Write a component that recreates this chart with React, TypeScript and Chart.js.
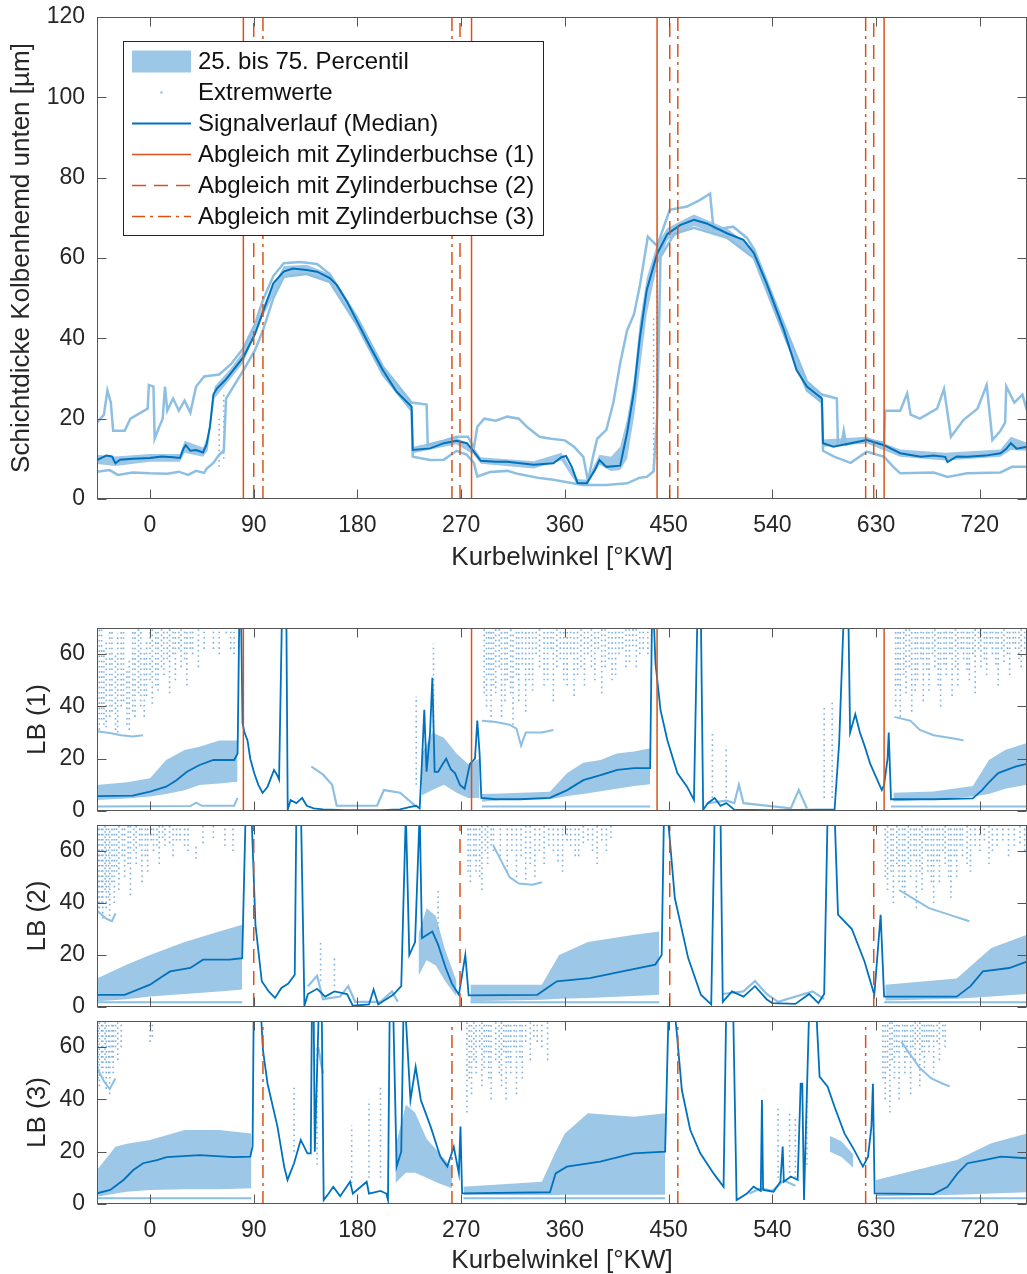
import React, { useEffect, useRef } from 'react';
import { Chart, registerables } from 'chart.js';

Chart.register(...registerables);

type P = [number, number | null];
type B = [number, number, number];
type S = [number, number, number];

// ---------- axes / labels ----------
const X_MIN = -46;
const X_MAX = 761;
const xTicks = [0, 90, 180, 270, 360, 450, 540, 630, 720];
const topYTicks = [0, 20, 40, 60, 80, 100, 120];
const lbYTicks = [0, 20, 40, 60];
const TOP_Y_MAX = 120;
const LB_Y_MAX = 70;

const xTitle = 'Kurbelwinkel [°KW]';
const topYTitle = 'Schichtdicke Kolbenhemd unten [µm]';
const lbTitles = ['LB (1)', 'LB (2)', 'LB (3)'];
const legendLabels = [
  '25. bis 75. Percentil',
  'Extremwerte',
  'Signalverlauf (Median)',
  'Abgleich mit Zylinderbuchse (1)',
  'Abgleich mit Zylinderbuchse (2)',
  'Abgleich mit Zylinderbuchse (3)',
];

// alignment angles (°KW)
const cyl1 = [81, 279, 440, 637];
const cyl2 = [90, 269, 451, 628];
const cyl3 = [98, 262, 458, 621];

// ---------- top panel ----------
const topMedian: P[] = [
  [-46, 9.7], [-38, 10.8], [-33, 10.6], [-30, 8.9], [-26, 9.8], [-15, 10.0], [0, 10.2], [10, 10.6], [20, 10.4],
  [26, 10.2], [29, 12.5], [31, 13.4], [35, 12.0], [40, 12.2], [46, 11.6], [49, 13.5], [52, 18], [55, 26],
  [58, 27.5], [65, 29.5], [70, 31.3], [81, 35.3], [91, 41], [98, 46.6], [107, 53.7], [116, 56.6], [124, 57.4],
  [136, 57.0], [145, 56.6], [156, 55.0], [162, 53.3], [171, 49.1], [179, 44.6], [191, 37.9], [202, 32.1],
  [214, 26.7], [227, 23.0], [228, 12.2], [243, 12.6], [255, 13.9], [266, 14.5], [275, 13.9], [281, 11.8],
  [287, 9.5], [300, 9.3], [310, 9.3], [333, 8.5], [350, 8.9], [357, 10.4], [361, 10.7], [366, 8.0], [371, 4.0],
  [379, 3.9], [386, 7.2], [390, 9.7], [396, 8.0], [408, 8.3], [414, 16.5], [420, 27], [425, 40], [431, 52],
  [440, 61], [449, 66], [460, 68.2], [472, 69.5], [483, 68.6], [501, 66.1], [515, 64.5], [524, 61.2],
  [535, 53.7], [550, 42.1], [561, 32.1], [570, 28.0], [583, 25.0], [584, 13.9], [593, 13.0], [608, 13.9],
  [622, 14.7], [637, 13.4], [651, 11.4], [669, 10.5], [680, 10.8], [690, 10.5], [692, 9.2], [700, 10.6],
  [709, 10.5], [725, 10.8], [738, 11.4], [743, 12.5], [747, 13.9], [752, 12.5], [761, 13.0],
];
const topBand: B[] = [
  [-46, 8.7, 11], [-30, 8.2, 10.6], [0, 9.3, 11.2], [26, 9.3, 11.2], [30, 11.5, 14.5], [46, 10.5, 12.8],
  [50, 12, 15.5], [56, 25, 28], [70, 30, 32.5], [81, 34, 36.8], [98, 45.5, 48], [116, 55.5, 58], [136, 56, 58.3],
  [156, 54, 56], [179, 43.6, 45.6], [202, 31, 33], [227, 22, 24], [228, 11.4, 13], [266, 13.6, 15.3],
  [281, 11, 12.8], [287, 8.8, 10.4], [333, 7.6, 9.4], [357, 9.6, 11.5], [371, 3.4, 5], [379, 3.3, 4.8],
  [390, 8.5, 11], [400, 7, 10.5], [408, 7.2, 13], [414, 10, 20], [420, 20.5, 30], [425, 32, 44], [431, 46, 55],
  [440, 58, 63.5], [449, 64.5, 67.5], [472, 68, 70.8], [501, 65, 67.3], [524, 60, 62.3], [550, 41, 43.2],
  [570, 27, 29], [583, 24, 26], [584, 13, 14.8], [622, 13.8, 15.5], [651, 10.5, 12.3], [690, 9.6, 11.5],
  [738, 10.5, 12.3], [747, 12.2, 15.5], [761, 12, 14],
];
const topUpper: P[] = [
  [-46, 19], [-40, 21], [-37, 27], [-34, 24], [-32, 17], [-22, 17], [-17, 20], [-5, 22], [-2, 22.5], [-1, 28.4],
  [3, 28], [4, 15], [8, 18], [11, 20], [13, 28], [15, 22], [20, 25], [25, 22], [30, 24.5], [35, 21.5], [40, 28],
  [47, 30.5], [60, 31], [70, 33.5], [81, 37.5], [91, 43.5], [98, 49.5], [107, 55.5], [116, 58.7], [130, 59],
  [145, 58.5], [156, 56], [179, 45.5], [202, 33], [227, 24], [240, 23.5], [241, 13.5], [255, 14.5], [266, 15.5],
  [276, 15.5], [281, 12.7], [284, 18], [290, 20], [300, 19.5], [310, 20.5], [320, 20], [327, 18], [338, 15.5],
  [348, 15], [360, 14.6], [368, 13], [376, 10.5], [380, 4.5], [384, 10], [388, 15], [396, 17.2], [402, 23.9],
  [408, 33.8], [414, 42], [420, 46], [425, 53], [432, 65.3], [440, 63], [451, 72], [466, 72.8], [477, 74.4],
  [486, 76], [489, 67], [506, 67.8], [518, 65], [524, 62.3], [550, 43.5], [570, 29.3], [583, 26], [596, 25],
  [597, 13.5], [600, 13.5], [602, 17], [604, 13.5], [622, 14.8], [637, 14], [638, 22], [651, 22], [657, 26.3],
  [660, 21], [668, 20], [683, 22.5], [689, 27.4], [695, 15.5], [706, 19.7], [718, 22.5], [726, 28.4],
  [731, 14.7], [738, 17], [742, 19], [743, 28], [750, 24], [757, 26], [761, 22],
];
const topLower: P[] = [
  [-46, 6.8], [-35, 7.2], [-28, 6.0], [-15, 6.6], [0, 6.4], [15, 6.3], [25, 6.8], [33, 6.0], [40, 7.0],
  [47, 6.5], [49, 7.5], [55, 9], [60, 11], [64, 12], [66, 25], [81, 32], [91, 37], [98, 42], [107, 50],
  [116, 55.3], [136, 56], [156, 54], [179, 43.6], [202, 31], [227, 22], [228, 10.5], [243, 9.7], [255, 9.8],
  [266, 12], [275, 11], [281, 9], [284, 5.6], [295, 6.7], [310, 7], [320, 6.2], [338, 5.2], [350, 4.8],
  [367, 3.9], [376, 3.5], [396, 3.5], [414, 3.9], [425, 5.3], [431, 5.5], [437, 6.9], [440, 20], [443, 60.3],
  [455, 66], [472, 67.5], [501, 65], [524, 60], [550, 41], [570, 27], [583, 24], [584, 12], [594, 10.5],
  [608, 9], [622, 11.8], [637, 10.5], [645, 8], [651, 6.4], [680, 6.6], [692, 5.5], [709, 6.4], [738, 6.6],
  [748, 8], [761, 8],
];
const topDots: S[] = [[60, 8, 20], [64, 10, 26], [437, 7, 45], [440, 10, 58]];

// ---------- LB (1) ----------
const lb1Median: P[] = [
  [-46, 5.7], [-15, 5.9], [0, 7.4], [14, 9.3], [23, 11.8], [32, 15], [43, 17.6], [55, 19.5], [73, 19.5],
  [76, 22], [77.5, 75], [79, 75], [80.3, 33.6], [82, 30], [84.6, 27], [87, 20], [90.4, 14.5], [94, 10],
  [97.7, 6.9], [102, 9.3], [107.6, 15.7], [110, 14], [112, 12], [114.5, 75], [118.3, 75], [119.5, 0.5],
  [122, 4.2], [127, 3], [132, 5], [136, 2], [142, 1], [150, 0.6], [170, 0.3], [200, 0.3], [217, 0.6],
  [225, 1.5], [231, 2], [234, 1], [236, 19], [238, 38.7], [240, 15], [243, 30], [245, 51], [247, 15],
  [250, 15], [254, 18], [257, 20], [261, 16], [264.6, 14.5], [269, 10], [273, 8.5], [277.6, 18], [282, 20],
  [284, 34.6], [286, 22], [287.5, 5], [300, 4.5], [321, 4.5], [347, 5], [362, 8], [376, 11.8], [391, 13.7],
  [405.5, 15.7], [420, 16.4], [434, 16.4], [435.6, 75], [437, 75], [438.6, 56.5], [443, 38.6], [449, 27],
  [457.6, 14.5], [466, 9.3], [472, 4.2], [475, 75], [478, 75], [480, 0.5], [484, 3], [490, 5], [495, 2],
  [500, 3], [507, 0.5], [540, 0.3], [580, 0.5], [594, 0.5], [598, 26], [602, 75], [606, 75], [607.5, 30],
  [612, 37], [616, 30], [620, 25], [625, 18], [630, 13], [635, 8], [637, 10], [640, 20], [641, 30], [643, 4.5],
  [680, 4.5], [714, 4.8], [722, 8], [728, 11], [736, 14.5], [751, 17], [761, 18],
];
const lb1Bands: B[][] = [
  [[-46, 4.2, 9.9], [-20, 4.8, 11], [0, 5.5, 12.5], [14, 6.5, 19.5], [30, 7.9, 23.3], [43, 9.9, 24.6], [60, 10.5, 27], [76, 11.2, 27]],
  [[236, 6, 22], [245, 8, 30], [255, 10, 28], [266, 7, 22], [276, 5, 18], [286, 5, 20]],
  [[288, 3.5, 6.5], [304, 4.2, 6.7], [347, 4.5, 7.4], [362, 5.7, 14.5], [376, 6.5, 18.5], [391, 7.6, 19.5], [405, 8.5, 22], [420, 9.6, 22.8], [434, 10.2, 24]],
  [[645, 3.6, 7], [680, 4.5, 7.5], [714, 5.5, 9.6], [728, 6.5, 19.5], [742, 8.5, 23.3], [761, 10, 26]],
];
const lb1Lower: P[] = [
  [-46, 1.7], [35, 1.9], [40, 3.2], [45, 2.0], [73, 2.0], [76, 5], [77, null], [288, 1.7], [434, 1.7],
  [435, null], [643, 1.7], [761, 1.7],
];
const lb1Light: P[] = [
  [140, 17], [150, 14], [158, 10], [162, 2], [197, 2], [203, 8], [217, 7], [231, 1.7], [232, null],
  [484, 3], [500, 4], [507, 3], [511, 10], [515, 3], [556, 1], [563, 8], [570, 1], [571, null],
];
const lb1Edge: P[] = [
  [-46, 30.5], [-35, 29.8], [-25, 29], [-15, 28.5], [-6, 29], [-5, null], [288, 34.5], [300, 34], [312, 33],
  [318, 31.5], [322, 25], [326, 30], [340, 30], [350, 31], [351, null], [646, 36], [660, 34.5], [668, 31],
  [680, 29], [700, 27.5], [706, 27], [707, null],
];
const lb1Dots: S[] = [
  [-44, 31, 70], [-42, 35, 70], [-40, 33, 62], [-38, 32, 65], [-35, 36, 70], [-33, 38, 70], [-30, 31, 60],
  [-28, 30, 68], [-25, 40, 70], [-23, 42, 70], [-20, 33, 55], [-18, 31, 58], [-15, 38, 70], [-13, 36, 70],
  [-10, 45, 70], [-8, 40, 70], [-5, 36, 62], [-3, 44, 66], [0, 50, 70], [2, 41, 70], [5, 48, 70], [7, 46, 70],
  [10, 55, 70], [12, 52, 70], [15, 58, 70], [17, 45, 70], [20, 60, 70], [22, 50, 70], [25, 62, 70], [27, 55, 70],
  [30, 58, 70], [32, 48, 70], [35, 62, 70], [37, 60, 70], [42, 55, 70], [47, 62, 70], [55, 62, 70], [60, 60, 70],
  [66, 68, 70], [70, 62, 70], [73, 60, 70], [231, 10, 44], [246, 30, 64], [290, 45, 70], [292, 40, 70],
  [294, 52, 70], [296, 34, 70], [298, 48, 70], [300, 45, 70], [303, 55, 70], [305, 36, 70], [308, 42, 70],
  [310, 50, 70], [313, 45, 70], [315, 33, 68], [318, 52, 70], [320, 42, 70], [323, 56, 70], [326, 38, 70],
  [329, 50, 70], [332, 46, 70], [335, 60, 70], [338, 55, 70], [342, 48, 70], [345, 50, 70], [348, 62, 70],
  [350, 42, 70], [353, 55, 70], [356, 58, 70], [359, 50, 70], [362, 48, 70], [365, 60, 70], [368, 44, 70],
  [371, 52, 70], [374, 55, 70], [377, 48, 70], [380, 60, 70], [383, 55, 70], [386, 50, 70], [389, 62, 70],
  [392, 45, 70], [395, 55, 70], [398, 58, 70], [401, 50, 70], [404, 52, 70], [407, 60, 70], [410, 62, 70],
  [413, 55, 70], [416, 57, 70], [419, 63, 70], [422, 55, 70], [425, 60, 70], [428, 62, 70], [432, 60, 70],
  [488, 5, 30], [500, 5, 25], [585, 5, 40], [592, 5, 42], [647, 40, 70], [649, 48, 70], [651, 36, 70],
  [654, 52, 70], [656, 45, 70], [659, 55, 70], [661, 38, 70], [664, 46, 70], [666, 50, 70], [669, 58, 70],
  [671, 42, 70], [674, 54, 70], [676, 46, 70], [679, 60, 70], [681, 55, 70], [684, 48, 70], [686, 40, 70],
  [689, 56, 70], [691, 52, 70], [694, 60, 70], [696, 44, 70], [699, 55, 70], [701, 48, 70], [704, 62, 70],
  [706, 58, 70], [709, 54, 70], [711, 50, 70], [714, 60, 70], [716, 45, 70], [719, 62, 70], [721, 55, 70],
  [724, 58, 70], [726, 52, 70], [729, 64, 70], [731, 60, 70], [734, 56, 70], [736, 48, 70], [739, 62, 70],
  [741, 57, 70], [744, 60, 70], [746, 52, 70], [749, 64, 70], [751, 62, 70], [754, 58, 70], [756, 55, 70],
  [759, 62, 70],
];

// ---------- LB (2) ----------
const lb2Median: P[] = [
  [-46, 4.7], [-22, 4.7], [0, 8.6], [10, 11.5], [17.5, 13.7], [35, 15], [46, 18.2], [69, 18.2], [80, 18.8],
  [83, 75], [88, 75], [91.5, 31.6], [97, 9.9], [103, 6], [108.5, 3.5], [114, 7.3], [120, 9], [125.6, 12.4],
  [127, 75], [131, 75], [134, 0.5], [137, 5], [145, 7], [152, 4], [160, 6], [171, 5], [176, 0.5], [190, 1],
  [194, 6.7], [198, 1], [211, 4.7], [218, 8], [222, 75], [225, 20], [230, 25], [234, 75], [236, 26.5],
  [245, 29], [250, 24], [256.6, 15], [262, 9], [268, 4.7], [273.6, 20], [276.5, 4.5], [336, 4.7], [353, 9.9],
  [381.6, 11.1], [410, 13.7], [438.4, 16.3], [444, 20], [446, 75], [449, 75], [455.4, 41.9], [467, 18.8],
  [478, 4.7], [487, 1], [490, 75], [495, 75], [497, 2], [505, 6], [515, 4], [525, 8], [535, 3], [540, 1.5],
  [560, 1.2], [572, 5], [580, 1.5], [585, 5], [588, 75], [594, 75], [597, 35.5], [609, 30], [620, 17.5],
  [628.5, 4.7], [634, 35.5], [637, 4], [700, 4], [712, 8], [722.7, 13.7], [745.5, 15], [761, 17.5],
];
const lb2Bands: B[][] = [
  [[-46, 2.2, 11], [-20, 3, 16.3], [0, 4, 20], [30, 5, 25], [60, 6, 29], [80, 6.7, 31.6]],
  [[233, 12, 28], [240, 18, 38], [248, 16, 35], [256, 10, 22], [266, 4, 10]],
  [[278, 2.2, 8.6], [340, 2.8, 8.6], [355, 3.2, 20], [380, 3.5, 25], [420, 4.2, 27.8], [442, 4.7, 29]],
  [[638, 2.5, 8.6], [700, 3.2, 11], [730, 4, 22.7], [761, 5, 27.8]],
];
const lb2Lower: P[] = [
  [-46, 1.8], [80, 1.8], [81, null], [278, 1.8], [442, 1.8], [443, null], [637, 1.8], [761, 1.8],
];
const lb2Light: P[] = [
  [137, 8], [145, 12], [150, 3], [165, 4], [172, 8], [178, 2], [200, 2], [210, 6], [215, 2], [216, null],
  [497, 5], [515, 6], [525, 10], [535, 5], [545, 2], [575, 6], [585, 3], [586, null],
];
const lb2Edge: P[] = [
  [-46, 37], [-38, 34], [-33, 33], [-30, 36], [-29, null], [298, 62], [305, 56], [312, 50], [320, 47.5],
  [332, 47], [340, 48], [341, null], [650, 45], [665, 41], [676, 38], [690, 36], [711, 33], [712, null],
];
const lb2Dots: S[] = [
  [-45, 38, 70], [-44, 36, 70], [-42, 40, 70], [-41, 34, 70], [-39, 45, 70], [-38, 38, 70], [-36, 42, 70],
  [-35, 33, 68], [-33, 48, 70], [-31, 40, 70], [-29, 52, 70], [-27, 45, 70], [-24, 58, 70], [-22, 50, 70],
  [-19, 55, 70], [-17, 43, 70], [-14, 60, 70], [-12, 55, 70], [-9, 62, 70], [-7, 48, 70], [-4, 58, 70],
  [-2, 52, 70], [1, 64, 70], [3, 60, 70], [6, 62, 70], [8, 55, 70], [11, 65, 70], [13, 62, 70], [17, 63, 70],
  [20, 58, 70], [23, 64, 70], [26, 64, 70], [30, 62, 70], [33, 60, 70], [40, 57, 62], [46, 63, 70], [55, 65, 70],
  [65, 62, 70], [72, 60, 70], [148, 10, 25], [160, 8, 20], [250, 30, 45], [276, 52, 70], [278, 48, 70],
  [281, 58, 70], [283, 52, 70], [286, 50, 70], [288, 45, 70], [291, 60, 70], [293, 55, 70], [296, 62, 70],
  [298, 60, 70], [304, 58, 70], [310, 52, 70], [314, 60, 70], [318, 50, 70], [322, 58, 70], [326, 49, 70],
  [330, 55, 70], [334, 50, 70], [338, 60, 70], [342, 55, 70], [346, 62, 70], [350, 60, 70], [354, 56, 70],
  [358, 52, 70], [362, 64, 70], [365, 62, 70], [369, 58, 70], [372, 58, 70], [376, 63, 70], [380, 64, 70],
  [384, 60, 70], [388, 55, 70], [392, 64, 70], [396, 60, 70], [400, 65, 70], [638, 50, 70], [640, 45, 70],
  [643, 52, 70], [645, 40, 70], [648, 55, 70], [650, 48, 70], [653, 46, 70], [655, 42, 70], [658, 55, 70],
  [660, 50, 70], [663, 58, 70], [665, 38, 70], [668, 52, 70], [670, 45, 70], [673, 60, 70], [675, 52, 70],
  [678, 48, 70], [680, 40, 70], [683, 56, 70], [685, 48, 70], [688, 60, 70], [690, 55, 70], [693, 50, 70],
  [695, 42, 70], [698, 58, 70], [700, 50, 70], [703, 62, 70], [705, 58, 70], [709, 55, 70], [712, 52, 70],
  [716, 62, 70], [720, 60, 70], [724, 64, 70], [728, 55, 70], [731, 60, 70], [735, 62, 70], [740, 64, 70],
  [745, 58, 70], [750, 62, 70], [755, 63, 70], [759, 60, 70],
];

// ---------- LB (3) ----------
const lb3Median: P[] = [
  [-46, 4.1], [-34.5, 5.4], [-23, 9.2], [-14.5, 13], [-6, 15.6], [6, 16.8], [14.5, 17.9], [43, 18.7], [72, 17.9],
  [87, 18.1], [89, 22], [90, 75], [96, 75], [98, 58.9], [102, 46], [110.6, 29.6], [116.4, 14.3], [119.3, 9.2],
  [125, 15.6], [130.8, 24.5], [136.6, 19.4], [139.5, 19.4], [140.5, 75], [142, 75], [143, 20], [146.5, 75],
  [149, 75], [150.7, 1.5], [155, 4], [159, 6.6], [165, 3], [173.6, 8.5], [176, 4], [188, 8.5], [190, 4],
  [200, 5], [205, 4], [206.5, 1.5], [208, 75], [211, 75], [214, 14.3], [218, 20], [220, 75], [221.5, 75],
  [226, 39.8], [230.5, 52.5], [235, 39.8], [243.5, 29.6], [252, 18], [258, 14.3], [263.6, 21.9], [268, 11.7],
  [269.4, 29.6], [270.8, 4.1], [347, 4.5], [352, 11.7], [361.7, 14.3], [390.6, 16.2], [419.6, 19.4], [447, 20],
  [450, 75], [455, 75], [457.2, 65], [461.5, 43.6], [468.8, 28.3], [477.5, 19.4], [489, 11.7], [497.7, 6.6],
  [500, 75], [506, 75], [509, 1.5], [518, 4], [523.7, 6.6], [530, 5], [531, 39.8], [532, 5.4], [541, 4.7],
  [547, 8.5], [549, 22], [550, 8.5], [556, 10.5], [562, 9.2], [564.6, 46], [566, 46], [567.5, 1.5], [572, 75],
  [578, 75], [581, 48.7], [588, 44.9], [594, 37.2], [602.6, 27], [611, 20.7], [618.6, 14.3], [623, 18],
  [626, 29.6], [627.3, 46], [628.8, 4.1], [680, 3.8], [692, 6.6], [700.7, 11.7], [709.4, 15.6], [723.8, 16.8],
  [738.3, 18.1], [761, 17.5],
];
const lb3Bands: B[][] = [
  [[-46, 2.8, 13], [-30, 4, 21.9], [-20, 4.7, 23], [0, 5.4, 24.5], [30, 5.6, 28.3], [60, 5.6, 28.3], [88, 6, 27]],
  [[213, 8, 22], [222, 12, 38], [230, 12, 35], [240, 10, 25], [250, 8, 20], [262, 6, 14]],
  [[272, 3.4, 6.6], [340, 3.4, 8.5], [352, 3.4, 20], [360, 3.5, 27], [380, 3.5, 34.7], [420, 3.5, 33.4], [447, 3.5, 34.7]],
  [[590, 20, 26], [600, 18, 24], [610, 14, 19]],
  [[630, 3, 9.2], [700, 3.5, 16.8], [730, 4, 23.2], [761, 4.5, 27]],
];
const lb3Lower: P[] = [
  [-46, 2.2], [88, 2.2], [89, null], [272, 2.2], [447, 2.2], [448, null], [629, 2.2], [761, 2.2],
];
const lb3Light: P[] = [
  [146, 60], [150, 50], [152, null], [520, 4], [530, 6], [540, 5], [550, 9], [560, 7], [566, null],
];
const lb3Edge: P[] = [
  [-46, 52], [-40, 47], [-35, 44], [-30, 48], [-29, null], [652, 62], [660, 57], [668, 52], [678, 48],
  [688, 46], [694, 45], [695, null],
];
const lb3Dots: S[] = [
  [-45, 48, 70], [-44, 45, 70], [-42, 52, 70], [-41, 48, 70], [-39, 55, 70], [-38, 44, 70], [-36, 50, 70],
  [-35, 42, 68], [-33, 56, 70], [-32, 50, 70], [-30, 60, 70], [-28, 55, 70], [-25, 60, 70], [0, 62, 70],
  [2, 64, 70], [125, 20, 45], [145, 15, 60], [175, 8, 30], [190, 10, 40], [200, 10, 45], [275, 35, 70],
  [277, 48, 70], [279, 42, 70], [281, 55, 70], [283, 50, 70], [286, 60, 70], [288, 45, 70], [290, 52, 70],
  [292, 58, 70], [294, 48, 70], [296, 40, 70], [300, 55, 70], [303, 50, 70], [305, 45, 70], [307, 58, 70],
  [309, 40, 70], [311, 54, 70], [313, 50, 70], [316, 60, 70], [318, 42, 70], [321, 56, 70], [323, 48, 70],
  [326, 62, 70], [330, 55, 70], [333, 64, 70], [336, 62, 70], [340, 60, 70], [345, 55, 70], [531, 10, 40],
  [545, 10, 38], [555, 12, 36], [560, 10, 33], [570, 15, 40], [636, 48, 70], [638, 40, 70], [640, 52, 70],
  [642, 35, 70], [644, 55, 70], [646, 48, 70], [648, 58, 70], [650, 40, 70], [653, 60, 70], [655, 50, 70],
  [657, 56, 70], [660, 42, 70], [662, 60, 70], [664, 55, 70], [666, 62, 70], [668, 45, 70], [670, 58, 70],
  [672, 52, 70], [674, 62, 70], [676, 58, 70], [678, 64, 70], [680, 50, 70], [683, 62, 70], [685, 55, 70],
  [688, 64, 70], [690, 60, 70],
];

// ---------- styles ----------
const FONT = '"Liberation Sans", Arial, Helvetica, sans-serif';
const TEXT_C = '#262626';
const AXIS_C = '#555555';
const MEDIAN_C = '#0072BD';
const BAND_C = '#9DC7E7';
const EXT_C = '#8DBFE3';
const DOT_C = 'rgba(105,165,215,0.85)';
const RED_C = '#D95319';
const DASH_SOLID: number[] = [];
const DASH_DASHED = [14, 8];
const DASH_DOTDASH = [13, 5, 3, 5];
const TICK_FONT = 23;
const TITLE_FONT = 26;
const LEGEND_FONT = 24;

const toXY = (a: P[]) => a.map(([x, y]) => ({ x, y }));

function lineDs(data: any[], color: string, width: number, order: number, dash: number[] = []) {
  return {
    data, borderColor: color, backgroundColor: color, borderWidth: width, pointRadius: 0,
    pointHoverRadius: 0, fill: false, order, borderDash: dash, tension: 0, spanGaps: false,
  };
}

function bandDs(segs: B[][]) {
  const out: any[] = [];
  segs.forEach((seg) => {
    out.push({
      data: seg.map(([x, lo]) => ({ x, y: lo })), borderColor: 'rgba(0,0,0,0)', borderWidth: 0,
      pointRadius: 0, fill: false, order: 5, tension: 0,
    });
    out.push({
      data: seg.map(([x, , hi]) => ({ x, y: hi })), borderColor: 'rgba(0,0,0,0)', borderWidth: 0,
      pointRadius: 0, fill: '-1', backgroundColor: BAND_C, order: 5, tension: 0,
    });
  });
  return out;
}

function streakDs(s: S[]) {
  const data: any[] = [];
  s.forEach(([x, lo, hi]) => {
    data.push({ x, y: lo }, { x, y: hi }, { x, y: null });
  });
  return lineDs(data, DOT_C, 1.6, 3, [1.6, 3.6]);
}

function vlineDs(xs: number[], yMax: number, dash: number[]) {
  return xs.map((x) => lineDs([{ x, y: 0 }, { x, y: yMax }], RED_C, 1.5, 0, dash));
}

function drawLegend(ctx: CanvasRenderingContext2D) {
  const L = 123.5, T = 41.5, W = 420, H = 194;
  ctx.save();
  ctx.fillStyle = '#ffffff';
  ctx.fillRect(L, T, W, H);
  ctx.strokeStyle = TEXT_C;
  ctx.lineWidth = 1;
  ctx.strokeRect(L, T, W, H);
  const sx0 = 132, sx1 = 191, tx = 198, y0 = 61.5, dy = 31;
  ctx.fillStyle = BAND_C;
  ctx.fillRect(sx0, y0 - 11, sx1 - sx0, 22);
  ctx.fillStyle = DOT_C;
  ctx.fillRect(160.5, y0 + dy - 1, 2, 2);
  const seg = (y: number, color: string, w: number, dash: number[]) => {
    ctx.beginPath();
    ctx.setLineDash(dash);
    ctx.strokeStyle = color;
    ctx.lineWidth = w;
    ctx.moveTo(sx0, y);
    ctx.lineTo(sx1, y);
    ctx.stroke();
  };
  seg(y0 + 2 * dy, MEDIAN_C, 2, []);
  seg(y0 + 3 * dy, RED_C, 1.5, DASH_SOLID);
  seg(y0 + 4 * dy, RED_C, 1.5, DASH_DASHED);
  seg(y0 + 5 * dy, RED_C, 1.5, DASH_DOTDASH);
  ctx.setLineDash([]);
  ctx.fillStyle = '#111111';
  ctx.font = `${LEGEND_FONT}px ${FONT}`;
  ctx.textBaseline = 'middle';
  ctx.textAlign = 'left';
  legendLabels.forEach((t, i) => ctx.fillText(t, tx, y0 + i * dy + 1));
  ctx.restore();
}

function framePlugin(yTicks: number[], withLegend: boolean) {
  return {
    id: 'frame',
    afterDraw(chart: any) {
      const { ctx, chartArea: a, scales } = chart;
      ctx.save();
      ctx.strokeStyle = AXIS_C;
      ctx.lineWidth = 1;
      ctx.setLineDash([]);
      const L = Math.round(a.left) + 0.5, R = Math.round(a.right) - 0.5;
      const T = Math.round(a.top) + 0.5, Bm = Math.round(a.bottom) - 0.5;
      ctx.strokeRect(L, T, R - L, Bm - T);
      const tl = 9;
      ctx.beginPath();
      xTicks.forEach((v) => {
        const px = Math.round(scales.x.getPixelForValue(v)) + 0.5;
        ctx.moveTo(px, Bm); ctx.lineTo(px, Bm - tl);
        ctx.moveTo(px, T); ctx.lineTo(px, T + tl);
      });
      yTicks.forEach((v) => {
        const py = Math.round(scales.y.getPixelForValue(v)) + 0.5;
        ctx.moveTo(L, py); ctx.lineTo(L + tl, py);
        ctx.moveTo(R, py); ctx.lineTo(R - tl, py);
      });
      ctx.stroke();
      ctx.restore();
      if (withLegend) drawLegend(ctx);
    },
  };
}

type PanelCfg = {
  top: number; height: number; padTop: number; xAxisH: number; yMax: number; yTicks: number[];
  yTitle: string; yTitlePad: number; xTitlePad: number; showX: boolean; datasets: any[]; legend: boolean;
};

function buildConfig(p: PanelCfg) {
  return {
    type: 'line',
    data: { datasets: p.datasets },
    options: {
      animation: false,
      responsive: false,
      maintainAspectRatio: false,
      events: [],
      layout: { padding: { top: p.padTop, left: 0, right: 0, bottom: 0 } },
      plugins: { legend: { display: false }, tooltip: { enabled: false } },
      scales: {
        x: {
          type: 'linear', min: X_MIN, max: X_MAX,
          afterBuildTicks: (ax: any) => { ax.ticks = xTicks.map((v) => ({ value: v })); },
          afterFit: (ax: any) => { ax.height = p.xAxisH; ax.paddingLeft = 0; ax.paddingRight = 0; },
          grid: { display: false, drawTicks: false },
          border: { display: false },
          ticks: {
            display: p.showX, padding: 13, autoSkip: false, maxRotation: 0,
            font: { family: FONT, size: TICK_FONT }, color: TEXT_C,
          },
          title: {
            display: p.showX, text: xTitle, color: TEXT_C,
            font: { family: FONT, size: TITLE_FONT, lineHeight: 1.0 },
            padding: { top: 0, bottom: p.xTitlePad },
          },
        },
        y: {
          type: 'linear', min: 0, max: p.yMax,
          afterBuildTicks: (ax: any) => { ax.ticks = p.yTicks.map((v) => ({ value: v })); },
          afterFit: (ax: any) => { ax.width = 97; ax.paddingTop = 0; ax.paddingBottom = 0; },
          grid: { display: false, drawTicks: false },
          border: { display: false },
          ticks: { padding: 12, font: { family: FONT, size: TICK_FONT }, color: TEXT_C },
          title: {
            display: true, text: p.yTitle, color: TEXT_C,
            font: { family: FONT, size: TITLE_FONT, lineHeight: 1.0 },
            padding: { top: p.yTitlePad, bottom: 0 },
          },
        },
      },
    },
    plugins: [framePlugin(p.yTicks, p.legend)],
  };
}

function lbDatasets(median: P[], bands: B[][], lower: P[], light: P[], edge: P[], dots: S[], cyl: number[], dash: number[]) {
  return [
    ...vlineDs(cyl, LB_Y_MAX, dash),
    lineDs(toXY(median), MEDIAN_C, 1.8, 1),
    streakDs(dots),
    lineDs(toXY(edge), EXT_C, 2, 2),
    lineDs(toXY(light), EXT_C, 2.2, 2),
    lineDs(toXY(lower), EXT_C, 2, 2),
    ...bandDs(bands),
  ];
}

const panels: PanelCfg[] = [
  {
    top: 0, height: 575, padTop: 17, xAxisH: 76, yMax: TOP_Y_MAX, yTicks: topYTicks, yTitle: topYTitle,
    yTitlePad: 9, xTitlePad: 4, showX: true, legend: true,
    datasets: [
      ...vlineDs(cyl1, TOP_Y_MAX, DASH_SOLID),
      ...vlineDs(cyl2, TOP_Y_MAX, DASH_DASHED),
      ...vlineDs(cyl3, TOP_Y_MAX, DASH_DOTDASH),
      lineDs(toXY(topMedian), MEDIAN_C, 2, 1),
      streakDs(topDots),
      lineDs(toXY(topUpper), EXT_C, 2.5, 2),
      lineDs(toXY(topLower), EXT_C, 2.5, 2),
      ...bandDs([topBand]),
    ],
  },
  {
    top: 600, height: 230, padTop: 28, xAxisH: 19, yMax: LB_Y_MAX, yTicks: lbYTicks, yTitle: lbTitles[0],
    yTitlePad: 25, xTitlePad: 0, showX: false, legend: false,
    datasets: lbDatasets(lb1Median, lb1Bands, lb1Lower, lb1Light, lb1Edge, lb1Dots, cyl1, DASH_SOLID),
  },
  {
    top: 800, height: 230, padTop: 25, xAxisH: 23, yMax: LB_Y_MAX, yTicks: lbYTicks, yTitle: lbTitles[1],
    yTitlePad: 25, xTitlePad: 0, showX: false, legend: false,
    datasets: lbDatasets(lb2Median, lb2Bands, lb2Lower, lb2Light, lb2Edge, lb2Dots, cyl2, DASH_DASHED),
  },
  {
    top: 1000, height: 274, padTop: 21, xAxisH: 70, yMax: LB_Y_MAX, yTicks: lbYTicks, yTitle: lbTitles[2],
    yTitlePad: 25, xTitlePad: 0, showX: true, legend: false,
    datasets: lbDatasets(lb3Median, lb3Bands, lb3Lower, lb3Light, lb3Edge, lb3Dots, cyl3, DASH_DOTDASH),
  },
];

function Panel({ cfg }: { cfg: PanelCfg }) {
  const ref = useRef<HTMLCanvasElement>(null);
  useEffect(() => {
    const chart = new Chart(ref.current as HTMLCanvasElement, buildConfig(cfg) as any);
    return () => chart.destroy();
  }, [cfg]);
  return (
    <canvas
      ref={ref}
      width={1027}
      height={cfg.height}
      style={{ position: 'absolute', left: 0, top: cfg.top, width: 1027, height: cfg.height }}
    />
  );
}

export default function App() {
  return (
    <div style={{ position: 'absolute', left: 0, top: 0, width: 1027, height: 1274, background: '#ffffff', overflow: 'hidden' }}>
      {panels.map((p, i) => (
        <Panel key={i} cfg={p} />
      ))}
    </div>
  );
}
